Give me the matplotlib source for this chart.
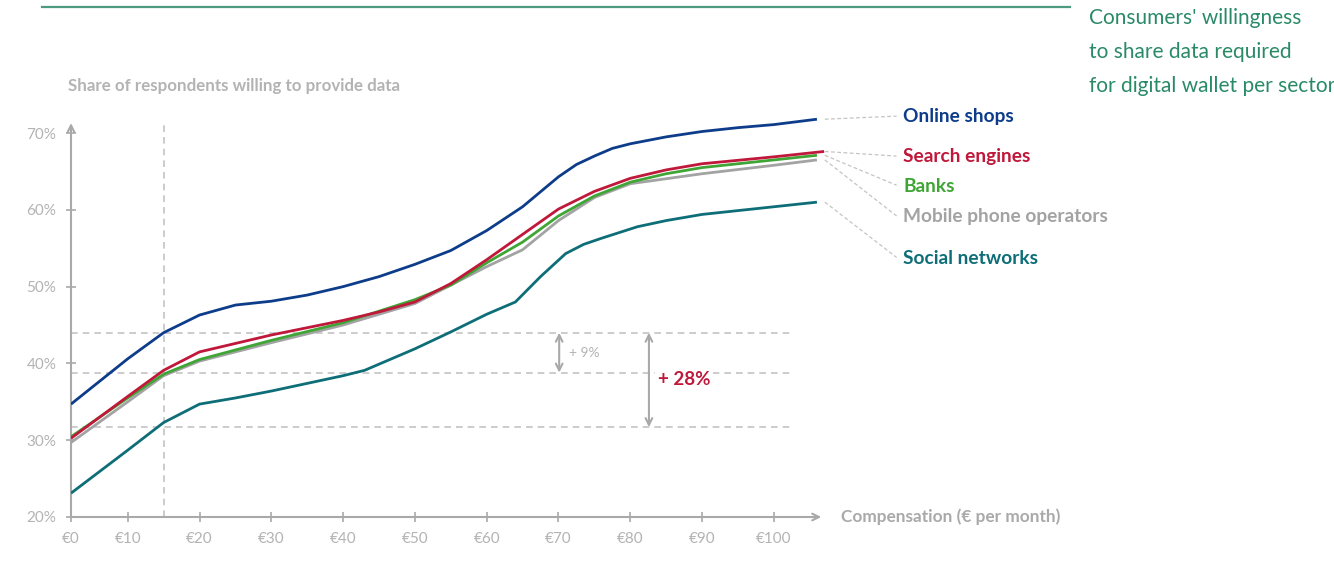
import numpy as np
import matplotlib.pyplot as plt

plt.rcParams['font.family'] = ['Lato', 'DejaVu Sans']

# compensation in € per month, share of respondents in %
comp = {
    'Online shops': [0, 10, 15, 20, 25, 30, 35, 40, 45, 50, 55, 60, 65, 70, 72.5, 75, 77.5, 80, 85, 90, 95, 100, 106],
    'Search engines': [0, 10, 15, 20, 30, 40, 45, 50, 55, 60, 65, 70, 75, 80, 85, 90, 100, 107],
    'Banks': [0, 10, 15, 20, 30, 40, 50, 55, 60, 65, 70, 75, 80, 85, 90, 100, 106],
    'Mobile phone operators': [0, 10, 15, 20, 30, 40, 50, 60, 65, 70, 75, 80, 90, 100, 106],
    'Social networks': [0, 10, 15, 20, 25, 30, 40, 43, 50, 55, 60, 64, 67.5, 71, 73.5, 76, 81, 85, 90, 100, 106],
}
share = {
    'Online shops': [34.7, 40.6, 44.0, 46.3, 47.6, 48.1, 48.9, 50.0, 51.3, 52.9, 54.7, 57.3, 60.4, 64.3, 65.9, 67.0, 68.0, 68.6, 69.5, 70.2, 70.7, 71.1, 71.8],
    'Search engines': [30.25, 35.7, 39.1, 41.5, 43.7, 45.6, 46.7, 48.0, 50.4, 53.5, 56.8, 60.1, 62.4, 64.1, 65.2, 66.0, 66.9, 67.6],
    'Banks': [30.45, 35.5, 38.6, 40.5, 43.0, 45.3, 48.3, 50.2, 53.1, 55.8, 59.2, 61.8, 63.6, 64.7, 65.5, 66.5, 67.1],
    'Mobile phone operators': [29.7, 35.0, 38.4, 40.3, 42.7, 45.0, 47.8, 52.6, 54.8, 58.6, 61.6, 63.4, 64.7, 65.8, 66.5],
    'Social networks': [23.1, 28.7, 32.3, 34.7, 35.5, 36.4, 38.4, 39.1, 41.9, 44.1, 46.4, 48.0, 51.3, 54.3, 55.5, 56.3, 57.8, 58.6, 59.4, 60.4, 61.0],
}
colors = {
    'Online shops': '#0d3d8a',
    'Search engines': '#c0183a',
    'Banks': '#3fa535',
    'Mobile phone operators': '#a3a3a3',
    'Social networks': '#0e6e78',
}
# drawing order (grey underneath)
order = ['Mobile phone operators', 'Banks', 'Search engines', 'Online shops', 'Social networks']

x_ticks = [0, 10, 20, 30, 40, 50, 60, 70, 80, 90, 100]
y_ticks = [20, 30, 40, 50, 60, 70]

threshold = 15                    # € marker line
ref_levels = [44.0, 38.8, 31.7]   # values at the threshold
gain_small, gain_big = '+ 9%', '+ 28%'

GREY = '#a9a9a9'
LIGHT = '#b3b3b3'
DASH = '#c4c4c4'


def xpos(c):
    # the first €10 step is drawn shorter than the others
    return np.interp(c, [0, 10, 1000], [2.1, 10, 1000])


fig = plt.figure(figsize=(13.34, 5.62), dpi=100)
ax = fig.add_axes([71 / 1334, 45 / 562, 789 / 1334, 407 / 562])
ax.set_xlim(2.1, 112)
ax.set_ylim(20, 73)
for s in ax.spines.values():
    s.set_visible(False)

# axes with arrow heads
arrow = dict(arrowstyle='->', color=GREY, lw=1.5, shrinkA=0, shrinkB=0,
             mutation_scale=12)
ax.annotate('', xy=(106.6, 20), xytext=(2.1, 20), arrowprops=arrow,
            annotation_clip=False)
ax.annotate('', xy=(2.1, 71.3), xytext=(2.1, 20), arrowprops=arrow,
            annotation_clip=False)

ax.set_xticks(xpos(np.array(x_ticks)))
ax.set_xticklabels([f'€{v}' for v in x_ticks])
ax.set_yticks(y_ticks)
ax.set_yticklabels([f'{v}%' for v in y_ticks])
ax.tick_params(direction='inout', length=7, width=1.2, color=GREY,
               labelcolor=LIGHT, labelsize=11, pad=7)

# reference lines
ax.plot([xpos(threshold)] * 2, [20, 71.2], ls=(0, (4, 3)), color=DASH,
        lw=1.2, zorder=1)
for lv in ref_levels:
    ax.plot([2.1, 102.2], [lv, lv], ls=(0, (4, 3)), color=DASH, lw=1.2,
            zorder=1)

# series
for name in order:
    ax.plot(xpos(np.array(comp[name])), share[name], color=colors[name],
            lw=2.0, solid_capstyle='butt', solid_joinstyle='round', zorder=3)

# gain arrows
darrow = dict(arrowstyle='<->', color=GREY, lw=1.5, shrinkA=0, shrinkB=0,
              mutation_scale=12)
ax.annotate('', xy=(70.1, ref_levels[0]), xytext=(70.1, ref_levels[1]),
            arrowprops=darrow)
ax.text(71.5, (ref_levels[0] + ref_levels[1]) / 2, gain_small, color=LIGHT,
        fontsize=10, va='center', ha='left')
ax.annotate('', xy=(82.6, ref_levels[0]), xytext=(82.6, ref_levels[2]),
            arrowprops=darrow)
ax.text(83.8, 37.9, gain_big, color='#c0183a', fontsize=13.5,
        fontweight='bold', va='center', ha='left',
        bbox=dict(facecolor='white', edgecolor='none', pad=2), zorder=2)

# series labels with dashed leader lines
label_y = {
    'Online shops': 72.1,
    'Search engines': 66.9,
    'Banks': 63.1,
    'Mobile phone operators': 59.1,
    'Social networks': 53.7,
}
for name, ly in label_y.items():
    y_end = share[name][-1]
    ax.plot([107.1, 117.1], [y_end, ly + 0.1], ls=(0, (3, 2)), color=DASH,
            lw=0.9, clip_on=False)
    ax.text(118.0, ly, name, color=colors[name], fontsize=13.8,
            fontweight='bold', va='center', ha='left', clip_on=False)

ax.text(109.4, 20, 'Compensation (€ per month)', color=GREY, fontsize=12.4,
        fontweight='bold', va='center', ha='left')

fig.text(68 / 1334, 1 - 86 / 562, 'Share of respondents willing to provide data',
         color=LIGHT, fontsize=12.2, fontweight='bold', va='center',
         ha='left')

# header rule and title
fig.add_artist(plt.Line2D([42 / 1334, 1070 / 1334], [1 - 7 / 562] * 2,
                          color='#4c9a82', lw=1.6))
title_lines = ['Consumers\' willingness', 'to share data required',
               'for digital wallet per sector']
for i, t in enumerate(title_lines):
    fig.text(1089 / 1334, 1 - (18 + 34 * i) / 562, t, color='#2a8a68',
             fontsize=15, va='center', ha='left')

fig.savefig('out.png', dpi=100, facecolor='white')
